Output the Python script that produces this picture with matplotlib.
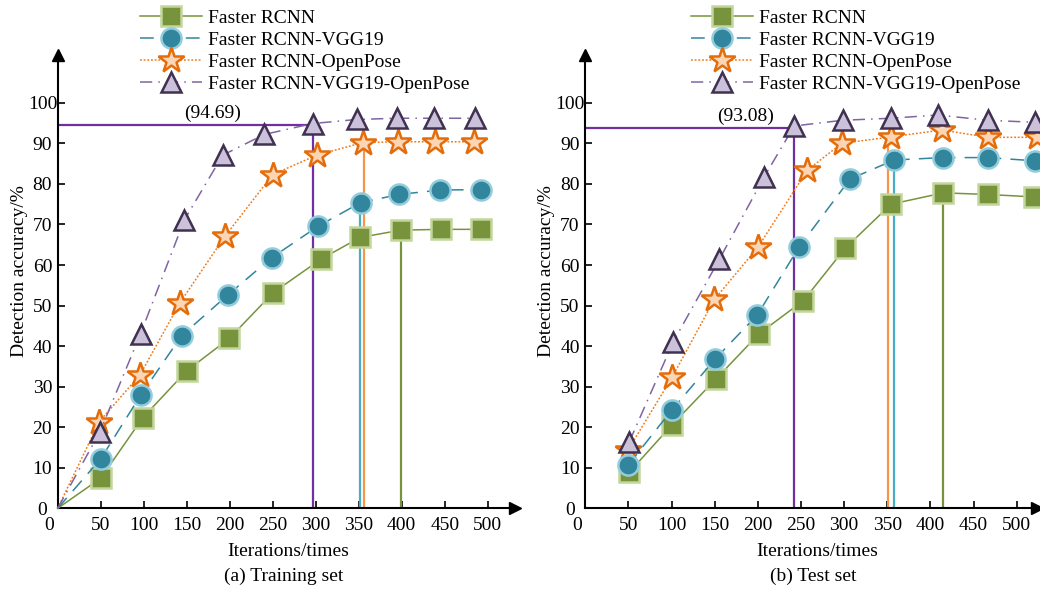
import matplotlib

matplotlib.use("Agg")
import matplotlib.pyplot as plt
import matplotlib.transforms as mtransforms

plt.rcParams["font.family"] = ["Liberation Serif", "DejaVu Serif"]
plt.rcParams["font.size"] = 14

LABELS = ["Faster RCNN", "Faster RCNN-VGG19", "Faster RCNN-OpenPose",
          "Faster RCNN-VGG19-OpenPose"]
X_TICKS = [0, 50, 100, 150, 200, 250, 300, 350, 400, 450, 500]
Y_TICKS = [0, 10, 20, 30, 40, 50, 60, 70, 80, 90, 100]

# (a) training set -- curves start at the origin
train_x = [
    [0, 50, 98.8, 150, 199.5, 250.7, 305.8, 351.5, 398.8, 445.3, 491.9],
    [0, 50, 96.5, 144.2, 197.7, 248.8, 303, 352.3, 396.9, 444.5, 491.9],
    [0, 48.4, 95.7, 142.2, 194.5, 250, 301.2, 354.7, 396, 438.7, 484],
    [0, 49.2, 96.5, 147.2, 191.9, 240.2, 296.5, 347.7, 394.2, 437.9, 485.2],
]
train_y = [
    [0, 7.4, 22.3, 33.9, 41.9, 53.2, 61.4, 66.8, 68.6, 68.8, 68.8],
    [0, 12.2, 27.9, 42.6, 52.6, 61.8, 69.6, 75.4, 77.4, 78.5, 78.6],
    [0, 21.4, 32.9, 50.7, 67.1, 82.3, 87.1, 90.2, 90.4, 90.4, 90.4],
    [0, 18.9, 43.1, 71.1, 87.1, 92.2, 94.9, 95.9, 96.2, 96.2, 96.2],
]
# vertical marker lines (x, top) per series, and the annotated level
train_vx = [398.8, 351.5, 356, 296.5]
train_vtop = [68.6, 75.4, 90.2, 94.69]
train_h = 94.5
train_note = "(94.69)"

# (b) test set
test_x = [
    [51.1, 100.2, 151.5, 201.7, 252.7, 301, 354.3, 414.9, 466.3, 520.3],
    [49.9, 100.2, 150.4, 199.4, 247.7, 306.8, 357.8, 414.2, 466.3, 521.1],
    [50, 100.9, 149.6, 200.5, 257.3, 297.2, 354.3, 413, 467, 523],
    [51.1, 102.1, 155.4, 207.5, 242.2, 298.3, 353.9, 408.4, 466.3, 521.1],
]
test_y = [
    [8.9, 20.5, 31.9, 43.1, 51.2, 64.1, 75.0, 77.8, 77.4, 76.8],
    [10.7, 24.2, 36.8, 47.7, 64.4, 81.2, 85.9, 86.5, 86.5, 85.7],
    [14.5, 32.4, 51.5, 64.5, 83.4, 90.0, 91.6, 93.3, 91.5, 91.5],
    [16.4, 41.1, 61.4, 81.8, 94.3, 95.7, 96.2, 97.0, 95.7, 95.2],
]
test_vx = [414.2, 357.8, 351.3, 242.2]
test_vtop = [77.8, 85.9, 91.6, 93.8]
test_h = 93.8
test_note = "(93.08)"

STYLES = [
    dict(color="#77933c", ls="-", marker="s", ms=14, mfc="#77933c",
         mec="#c3d69b", zorder=3),
    dict(color="#31859c", ls=(0, (9, 6)), marker="o", ms=14.5, mfc="#31859c",
         mec="#93cddd", zorder=5),
    dict(color="#f07b1b", ls=(0, (1.2, 1.2)), marker="*", ms=19, mfc="#fcd5b5",
         mec="#e46c0a", zorder=4),
    dict(color="#8064a2", ls=(0, (8, 4, 1, 4)), marker="^", ms=15, mfc="#ccc1da",
         mec="#403151", zorder=6),
]
VCOLORS = ["#77933c", "#4bacc6", "#f79646", "#7030a0"]


def draw_panel(fig, rect, xmax, xs, ys, vx, vtop, hy, note, note_x,
               start_marker, legend_x, caption, cap_x, zero_dx):
    ax = fig.add_axes(rect)
    handles = []
    for x, y, st in zip(xs, ys, STYLES):
        h, = ax.plot(x, y, lw=1.1, mew=1.8, clip_on=False,
                     markevery=list(range(start_marker, len(x))), **st)
        handles.append(h)
    for x, top, c in zip(vx, vtop, VCOLORS):
        ax.plot([x, x], [0, top], color=c, lw=1.6, zorder=2)
    ax.plot([0, vx[3]], [hy, hy], color=VCOLORS[3], lw=1.6, zorder=2)
    ax.text(note_x, hy + 2.8, note, ha="center", va="center", fontsize=14)

    ax.set_xlim(0, xmax)
    ax.set_ylim(0, 111.8)
    for s in ["top", "right"]:
        ax.spines[s].set_visible(False)
    ax.spines["left"].set_linewidth(1.5)
    ax.spines["bottom"].set_linewidth(1.5)
    ax.plot(1, 0, ">k", ms=8, transform=ax.get_yaxis_transform(), clip_on=False)
    ax.plot(0, 1, "^k", ms=8, transform=ax.get_xaxis_transform(), clip_on=False)

    ax.set_xticks(X_TICKS)
    ax.set_yticks(Y_TICKS)
    ax.tick_params(direction="in", length=5, width=1.2, labelsize=14)
    ax.tick_params(axis="y", pad=11)
    ax.tick_params(axis="x", pad=6)
    for lab in ax.get_yticklabels():
        lab.set_ha("center")
    first = ax.get_xticklabels()[0]
    first.set_transform(first.get_transform() + mtransforms.ScaledTranslation(
        zero_dx / 100, 0, fig.dpi_scale_trans))

    ax.set_ylabel("Detection accuracy/%", fontsize=14)
    ax.yaxis.set_label_coords(-0.066, 0.523)
    fig.text(cap_x[0] / 1040, 1 - 551.7 / 589, "Iterations/times",
             ha="center", va="center", fontsize=14)
    fig.text(cap_x[1] / 1040, 1 - 576 / 589, caption,
             ha="center", va="center", fontsize=14)

    ax.legend(handles, LABELS, loc="upper left", frameon=False,
              bbox_to_anchor=(legend_x / 1040, 0.984),
              bbox_transform=fig.transFigure, borderpad=0, borderaxespad=0,
              handlelength=3.2, handletextpad=0.3, labelspacing=0.23,
              fontsize=14)
    return ax


fig = plt.figure(figsize=(10.4, 5.89), dpi=100)
y0 = 1 - 508.3 / 589
h = (508.3 - 55) / 589
draw_panel(fig, [57.7 / 1040, y0, 532 * 0.86 / 1040, h], 532,
           train_x, train_y, train_vx, train_vtop, train_h, train_note, 180,
           1, 140, "(a) Training set", (288, 283.7), -9)
draw_panel(fig, [585.2 / 1040, y0, 523 * 0.8632 / 1040, h], 523,
           test_x, test_y, test_vx, test_vtop, test_h, test_note, 186,
           0, 691, "(b) Test set", (817.5, 813), -8)

fig.savefig("out.png", dpi=100)
